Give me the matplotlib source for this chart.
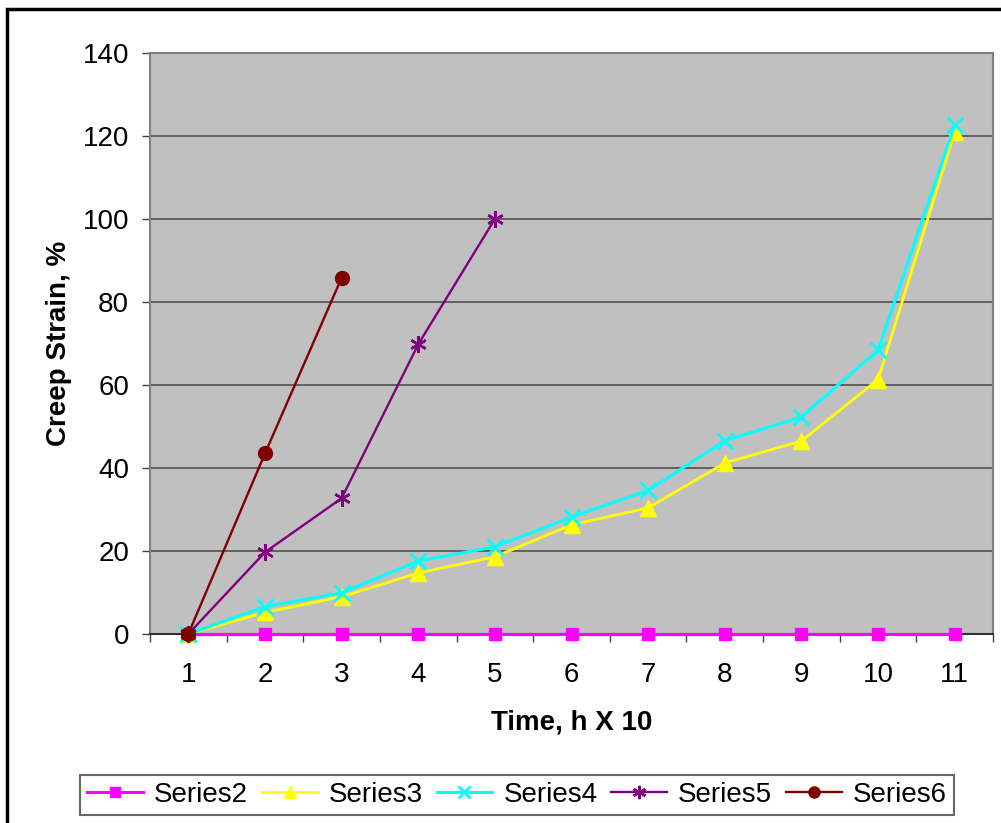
import matplotlib
matplotlib.use("Agg")
import matplotlib.pyplot as plt
from matplotlib.patches import Rectangle

plt.rcParams['font.family'] = ['Liberation Sans', 'DejaVu Sans']

x_cats = [1, 2, 3, 4, 5, 6, 7, 8, 9, 10, 11]
series2 = [0, 0, 0, 0, 0, 0, 0, 0, 0, 0, 0]
series3 = [0, 5.2, 9.0, 14.7, 18.6, 26.3, 30.4, 41.2, 46.5, 61.3, 121]
series4 = [0, 6.6, 9.9, 17.6, 21.0, 28.2, 34.6, 46.6, 52.3, 68.4, 122.7]
x5 = [1, 2, 3, 4, 5]
series5 = [0, 19.7, 32.7, 69.8, 100]
x6 = [1, 2, 3]
series6 = [0, 43.5, 85.8]
yticks = [0, 20, 40, 60, 80, 100, 120, 140]

fig = plt.figure(figsize=(10.01, 8.23), dpi=100)
fig.patch.set_facecolor('white')
fig.add_artist(Rectangle((7/1001, -0.05), 1.2, (823-9)/823 + 0.05, transform=fig.transFigure,
                         fill=False, edgecolor='black', linewidth=2.5))

ax = fig.add_axes([150/1001, (823-634)/823, 843/1001, 581/823])
ax.set_facecolor('#c0c0c0')

common = dict(clip_on=False, zorder=4)
ax.plot(x_cats, series2, color='#ff00ff', marker='s', markersize=9, linewidth=2.2, label='Series2', **common)
ax.plot(x_cats, series3, color='#ffff00', marker='^', markersize=11, linewidth=2, label='Series3', **common)
ax.plot(x_cats, series4, color='#00ffff', marker='x', markersize=11, markeredgewidth=2, linewidth=2.2, label='Series4', **common)
ax.plot(x5, series5, color='#800080', marker=(6, 2, 0), markersize=12, markeredgewidth=1.8, linewidth=1.7, label='Series5', **common)
ax.plot(x6, series6, color='#800000', marker='o', markersize=10, linewidth=1.7, label='Series6', **common)

ax.set_xlim(0.5, 11.5)
ax.set_ylim(0, 140)
ax.set_yticks(yticks)
ax.yaxis.grid(True, color='#505050', linewidth=1.2)
ax.set_axisbelow(True)

ax.set_xticks(x_cats)
ax.set_xticklabels([str(v) for v in x_cats])
ax.set_xticks([v + 0.5 for v in range(0, 11)] + [11.5], minor=True)
ax.tick_params(axis='x', which='major', length=0, pad=20, labelsize=20)
ax.tick_params(axis='x', which='minor', length=6, width=1, color='#404040')
ax.tick_params(axis='y', length=6, width=1, color='#404040', labelsize=20, pad=9)

for s in ['left', 'right', 'top']:
    ax.spines[s].set_color('#808080')
    ax.spines[s].set_linewidth(1.5)
ax.spines['bottom'].set_color('#303030')
ax.spines['bottom'].set_linewidth(1.5)

ax.set_ylabel('Creep Strain, %', fontsize=20, fontweight='bold', labelpad=8)
ax.set_xlabel('Time, h X 10', fontsize=20, fontweight='bold', labelpad=16)

leg = fig.legend(loc='center', bbox_to_anchor=(517/1001, (823-795)/823), ncol=5,
                 fontsize=20, frameon=True, fancybox=False, edgecolor='#404040',
                 handlelength=2.0, handletextpad=0.4, columnspacing=0.5, borderpad=0.25,
                 borderaxespad=0.2, markerscale=0.8)
leg.get_frame().set_linewidth(1.5)

fig.savefig('out.png', dpi=100)
